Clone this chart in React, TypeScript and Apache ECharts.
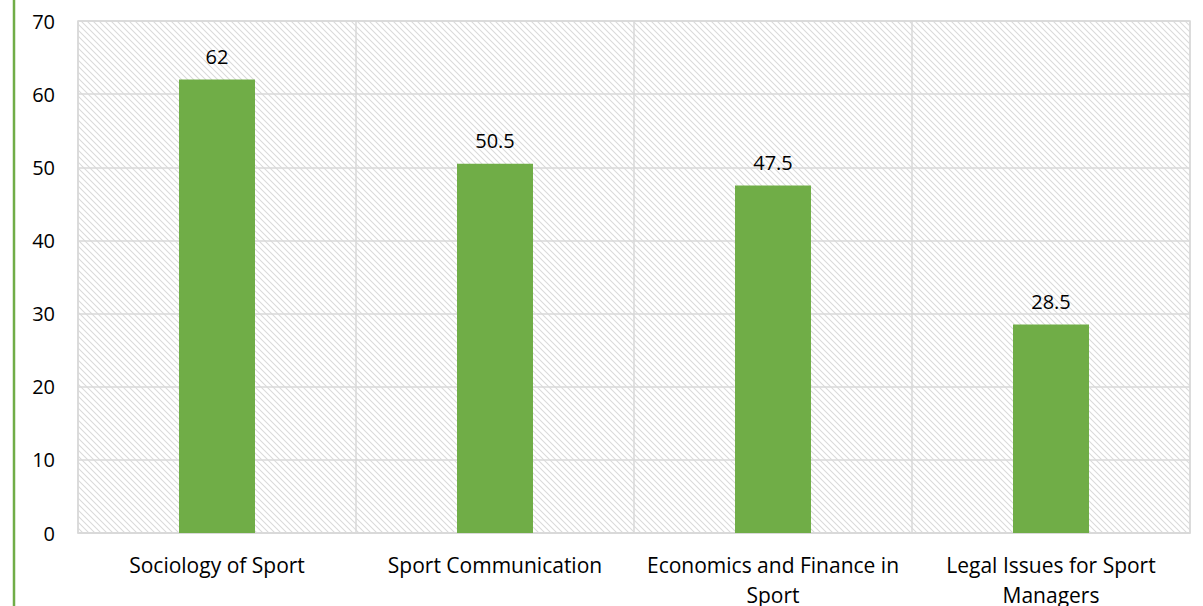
import React, { useEffect, useRef } from "react";
import * as echarts from "echarts";

const categories = [
  "Sociology of Sport",
  "Sport Communication",
  "Economics and Finance in\nSport",
  "Legal Issues for Sport\nManagers",
];
const values = [62, 50.5, 47.5, 28.5];
const yTicks = { min: 0, max: 70, interval: 10 };

const hatchSvg =
  "<svg xmlns='http://www.w3.org/2000/svg' width='6' height='6'>" +
  "<path d='M-1,-1 L7,7 M-1,5 L1,7 M5,-1 L7,1' stroke='#dadada' stroke-width='1.1'/></svg>";
const hatchUrl = "data:image/svg+xml;charset=utf-8," + encodeURIComponent(hatchSvg);

export default function App() {
  const ref = useRef<HTMLDivElement>(null);
  useEffect(() => {
    document.body.style.margin = "0";
    const chart = echarts.init(ref.current!, null, { renderer: "svg" });
    const font = "'Open Sans', sans-serif";
    chart.setOption({
      animation: false,
      backgroundColor: "#ffffff",
      grid: {
        left: 78,
        right: 13,
        top: 21,
        bottom: 73,
        outerBoundsMode: "none",
        containLabel: false,
        show: true,
        borderColor: "#d9d9d9",
        borderWidth: 1.5,
        backgroundColor: { image: hatchUrl, repeat: "repeat" },
      },
      graphic: [
        {
          type: "line",
          shape: { x1: 14, y1: 0, x2: 14, y2: 606 },
          style: { stroke: "#70ad47", lineWidth: 2.5 },
        },
      ],
      xAxis: {
        type: "category",
        data: categories,
        axisLine: { show: true, lineStyle: { color: "#d9d9d9", width: 1.5 } },
        axisTick: { show: false },
        splitLine: { show: true, lineStyle: { color: "#d9d9d9", width: 1.5 } },
        axisLabel: {
          color: "#000000",
          fontFamily: font,
          fontSize: 21,
          lineHeight: 30,
          margin: 17,
          interval: 0,
          hideOverlap: false,
        },
      },
      yAxis: {
        type: "value",
        min: yTicks.min,
        max: yTicks.max,
        interval: yTicks.interval,
        axisLine: { show: false },
        axisTick: { show: false },
        splitLine: { show: true, lineStyle: { color: "#d9d9d9", width: 1.5 } },
        axisLabel: {
          color: "#000000",
          fontFamily: font,
          fontSize: 20,
          margin: 23,
        },
      },
      series: [
        {
          type: "bar",
          data: values,
          barWidth: 76,
          itemStyle: { color: "#70ad47" },
          label: {
            show: true,
            position: "top",
            distance: 13,
            color: "#000000",
            fontFamily: font,
            fontSize: 20,
          },
        },
      ],
    });
    return () => chart.dispose();
  }, []);
  return <div ref={ref} style={{ width: 1203, height: 606 }} />;
}
